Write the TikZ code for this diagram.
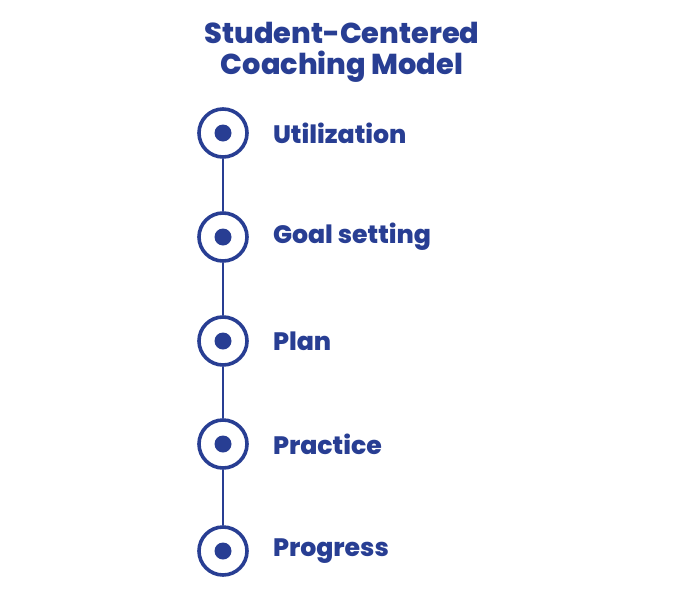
\documentclass[tikz,border=0pt]{standalone}
\usepackage{fontspec}
\setmainfont{Poppins}[UprightFont=* ExtraBold, BoldFont=* ExtraBold]
\usetikzlibrary{positioning}
\definecolor{coachblue}{HTML}{283E93}
\tikzset{
  x=1pt, y=-1pt,
  ring/.style={
    circle, draw=coachblue, line width=3.6pt,
    minimum size=48pt, inner sep=0pt
  },
  dot/.style={
    circle, fill=coachblue, minimum size=17pt, inner sep=0pt
  },
  step label/.style={
    text=coachblue, font=\fontsize{25.2}{28}\selectfont, anchor=west, inner sep=0pt
  },
  title/.style={
    text=coachblue, align=center, font=\fontsize{28.8}{31}\selectfont
  },
  link/.style={
    draw=coachblue, line width=2.6pt
  }
}
\begin{document}
\begin{tikzpicture}
  \useasboundingbox (0,0) rectangle (680,592);
  \node[title] (head) at (342,52) {Student-Centered\\Coaching Model};
  % steps
  \node[ring] (util) at (223,133) {};
  \node[ring] (goal) at (223,237) {};
  \node[ring] (plan) at (223,341) {};
  \node[ring] (prac) at (223,444) {};
  \node[ring] (prog) at (223,551) {};
  \foreach \s in {util, goal, plan, prac, prog}
    \node[dot] at (\s) {};
  \draw[link] (util) -- (goal);
  \draw[link] (goal) -- (plan);
  \draw[link] (plan) -- (prac);
  \draw[link] (prac) -- (prog);
  % labels
  \node[step label, right=24pt of util] (util-text) {Utilization};
  \node[step label, right=24pt of goal] (goal-text) {Goal setting};
  \node[step label, right=24pt of plan] (plan-text) {Plan};
  \node[step label, right=24pt of prac] (prac-text) {Practice};
  \node[step label, right=24pt of prog] (prog-text) {Progress};
\end{tikzpicture}
\end{document}
